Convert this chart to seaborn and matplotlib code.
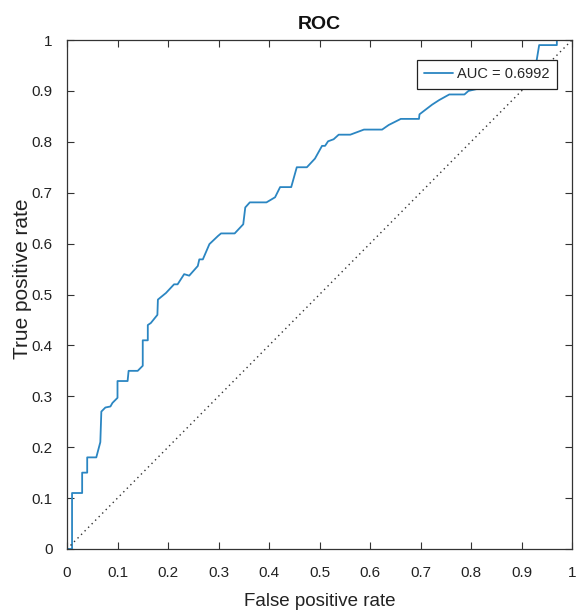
import matplotlib
matplotlib.use("Agg")
import matplotlib.pyplot as plt
import seaborn as sns
import pandas as pd

# ROC curve vertices (false positive rate, true positive rate)
fpr = [0.0, 0.01, 0.01, 0.03, 0.03, 0.04, 0.04, 0.058, 0.066, 0.068,
       0.076, 0.086, 0.09, 0.10, 0.10, 0.12, 0.122, 0.14, 0.15, 0.15,
       0.16, 0.16, 0.166, 0.179, 0.18, 0.196, 0.212, 0.219, 0.232, 0.242,
       0.259, 0.262, 0.269, 0.282, 0.299, 0.305, 0.332, 0.349, 0.353, 0.362,
       0.395, 0.412, 0.422, 0.444, 0.455, 0.475, 0.491, 0.505, 0.511, 0.517,
       0.528, 0.538, 0.561, 0.588, 0.624, 0.637, 0.661, 0.697, 0.698, 0.723,
       0.737, 0.757, 0.787, 0.795, 0.84, 0.88, 0.92, 0.93, 0.935, 0.97,
       0.97, 1.0]
tpr = [0.0, 0.0, 0.11, 0.11, 0.15, 0.15, 0.18, 0.18, 0.21, 0.27,
       0.278, 0.28, 0.287, 0.297, 0.33, 0.33, 0.35, 0.35, 0.36, 0.41,
       0.41, 0.44, 0.444, 0.46, 0.49, 0.503, 0.52, 0.52, 0.54, 0.537,
       0.556, 0.569, 0.569, 0.599, 0.615, 0.62, 0.62, 0.638, 0.671, 0.681,
       0.681, 0.691, 0.711, 0.711, 0.75, 0.75, 0.767, 0.792, 0.792, 0.801,
       0.805, 0.814, 0.814, 0.824, 0.824, 0.833, 0.845, 0.845, 0.854, 0.873,
       0.882, 0.893, 0.893, 0.90, 0.91, 0.93, 0.95, 0.96, 0.99, 0.99,
       1.0, 1.0]
auc_value = 0.6992

chance = [0.0, 1.0]
ticks = [0, 0.1, 0.2, 0.3, 0.4, 0.5, 0.6, 0.7, 0.8, 0.9, 1]
tick_labels = ["0", "0.1", "0.2", "0.3", "0.4", "0.5", "0.6", "0.7", "0.8", "0.9", "1"]

sns.set_theme(style="white")
plt.rcParams["font.family"] = ["Liberation Sans", "DejaVu Sans"]

fig = plt.figure(figsize=(5.77, 6.14), dpi=100)
ax = fig.add_axes([67 / 577, 1 - 549 / 614, 505 / 577, 509 / 614])

roc = pd.DataFrame({"fpr": fpr, "tpr": tpr})
sns.lineplot(data=roc, x="fpr", y="tpr", sort=False, estimator=None,
             color="#2b86c2", linewidth=1.3, ax=ax,
             label=f"AUC = {auc_value:.4f}")
ax.plot(chance, chance, linestyle=(0, (1, 2.6)), color="#333333", linewidth=1.0)

ax.set_xlim(0, 1)
ax.set_ylim(0, 1)
ax.set_xticks(ticks)
ax.set_xticklabels(tick_labels)
ax.set_yticks(ticks)
ax.set_yticklabels(tick_labels)
ax.tick_params(direction="in", length=5, width=0.8, colors="#333333",
               labelcolor="#222222", labelsize=11, top=True, right=True,
               bottom=True, left=True)
ax.tick_params(axis="x", pad=12)
ax.tick_params(axis="y", pad=10.5)
for s in ax.spines.values():
    s.set_color("#333333")
    s.set_linewidth(0.9)

ax.set_xlabel("False positive rate", fontsize=13.5, color="#222222")
ax.set_ylabel("True positive rate", fontsize=15, color="#222222")
ax.xaxis.set_label_coords(0.5, (549 - 602) / 509)
ax.xaxis.label.set_va("center")
ax.yaxis.set_label_coords((23 - 67) / 505, 0.53)
ax.yaxis.label.set_va("center")
ax.set_title("ROC", fontsize=14, fontweight="bold", color="#111111", pad=8)

leg = ax.legend(loc="upper right", bbox_to_anchor=(489.7 / 505, 1 - 20 / 509),
                frameon=True, fancybox=False, fontsize=10.5,
                handlelength=2.0, handletextpad=0.25, borderpad=0.5,
                borderaxespad=0)
leg.get_frame().set_edgecolor("#222222")
leg.get_frame().set_linewidth(0.9)
leg.get_frame().set_alpha(1)

fig.savefig("out.png", dpi=100, facecolor="white")
